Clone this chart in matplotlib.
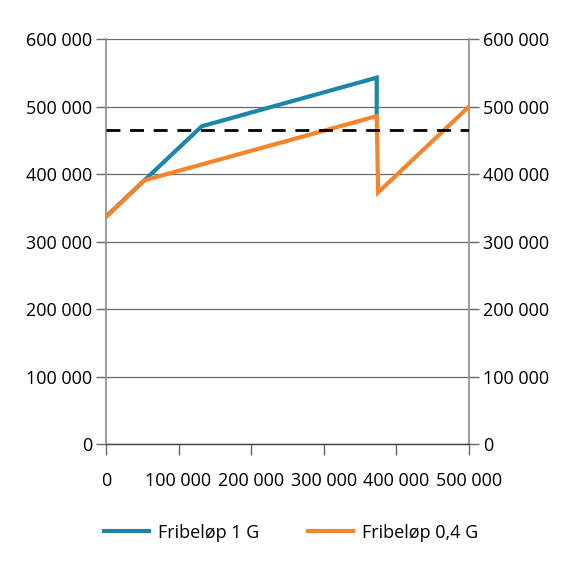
import matplotlib
matplotlib.use("Agg")
import matplotlib.pyplot as plt
from matplotlib.ticker import FuncFormatter, MultipleLocator

plt.rcParams['font.family'] = ['Open Sans', 'DejaVu Sans']

# Data
x_1g = [0, 53000, 132000, 373000, 373000]
y_1g = [337000, 391000, 471000, 543000, 486000]
x_04g = [0, 53000, 373000, 375000, 500000]
y_04g = [337000, 391000, 486000, 373000, 500000]
ref_level = 466000
labels = ["Fribeløp 1 G", "Fribeløp 0,4 G"]
colors = ["#1a86a8", "#f5852a"]

fmt = FuncFormatter(lambda v, p: f"{int(v):,}".replace(",", " "))

fig = plt.figure(figsize=(5.76, 5.68), dpi=100)
ax = fig.add_axes([0.184, 0.218, 0.630, 0.713])

ax.plot(x_1g, y_1g, color=colors[0], lw=3, label=labels[0], solid_joinstyle='miter', zorder=3)
ax.plot(x_04g, y_04g, color=colors[1], lw=3, label=labels[1], solid_joinstyle='miter', zorder=4)
ax.axhline(ref_level, color='black', lw=2, dashes=(5, 3.5), zorder=5)

ax.set_xlim(0, 500000)
ax.set_ylim(0, 600000)
ax.yaxis.set_major_locator(MultipleLocator(100000))
ax.xaxis.set_major_locator(MultipleLocator(100000))
ax.yaxis.set_major_formatter(fmt)
ax.xaxis.set_major_formatter(fmt)
ax.grid(axis='y', color='#6a6a6a', lw=0.9, zorder=1)
ax.set_axisbelow(True)

for s in ['left', 'right']:
    ax.spines[s].set_color('#8c8c8c')
    ax.spines[s].set_linewidth(1.2)
ax.spines['top'].set_visible(False)
ax.spines['bottom'].set_color('#404040')
ax.spines['bottom'].set_linewidth(1.0)

ax.tick_params(axis='y', which='both', left=True, right=True, labelleft=True, labelright=True,
               direction='out', length=7, width=1, color='#6a6a6a', labelsize=13, pad=3)
ax.tick_params(axis='x', direction='out', length=8, width=1, color='#6a6a6a', labelsize=13, pad=12)

leg = fig.legend(loc='lower center', bbox_to_anchor=(0.505, 0.018), ncol=2, frameon=False,
                 fontsize=13, handlelength=2.5, columnspacing=2.7, handletextpad=0.5)

fig.savefig("out.png", dpi=100)
